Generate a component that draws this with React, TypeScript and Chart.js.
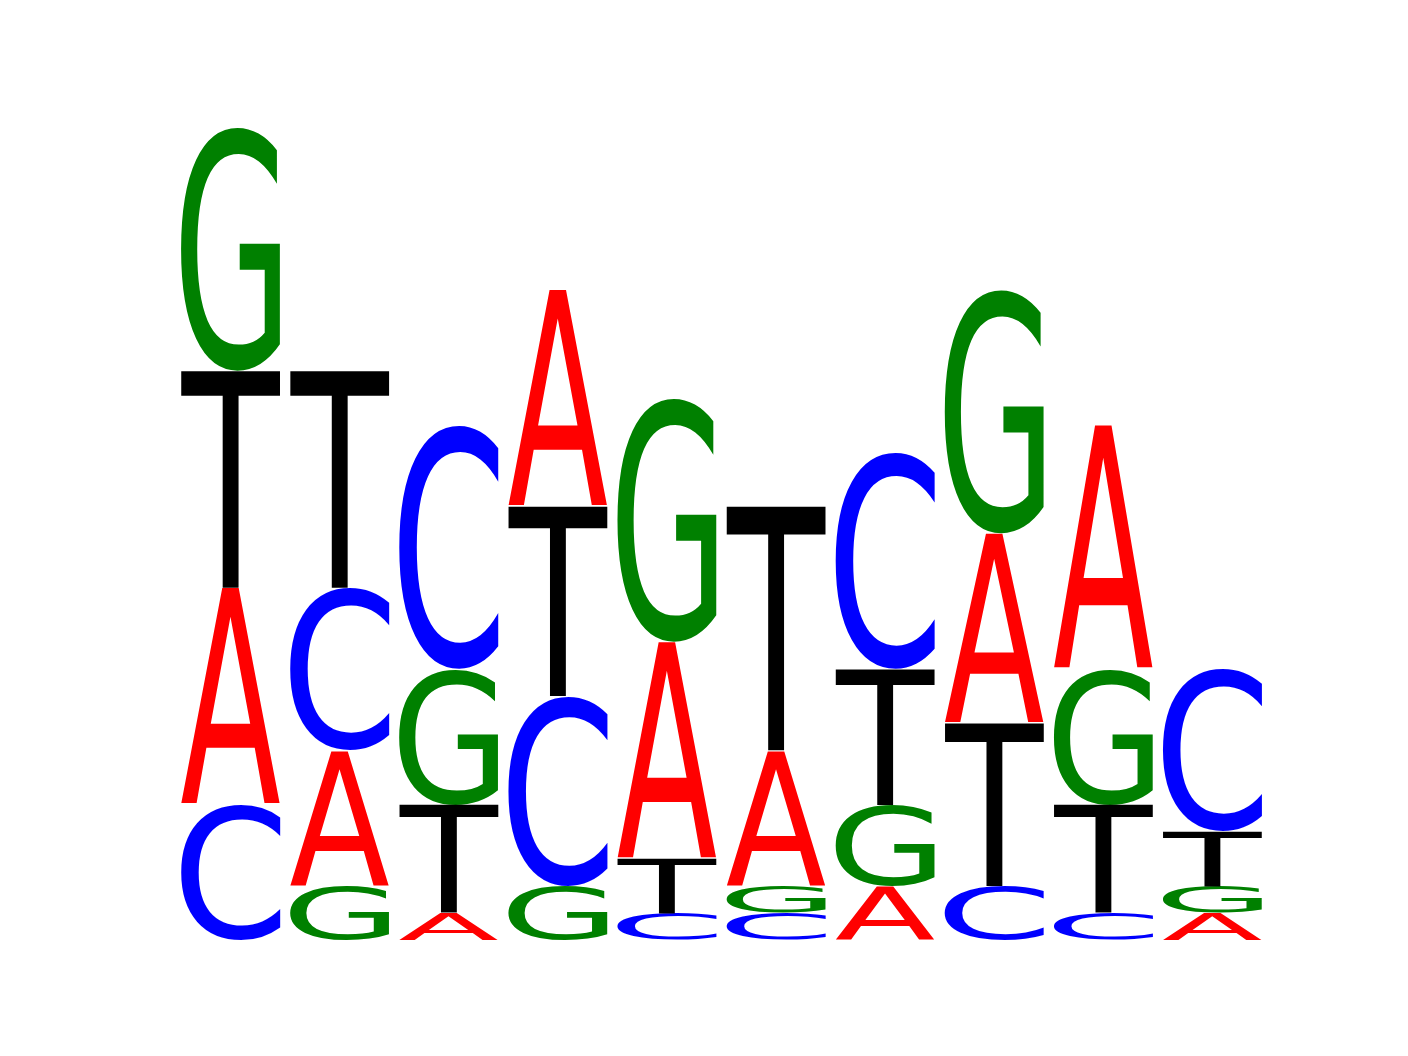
import { useEffect, useRef } from "react"
import { Chart, registerables } from "chart.js"

Chart.register(...registerables)

// counts per position (one letter unit = 1 count)
const positions = ["1", "2", "3", "4", "5", "6", "7", "8", "9", "10"]
const letters = ["A", "C", "G", "T"]
const countsA = [8, 5, 1, 8, 8, 5, 2, 7, 9, 1]
const countsC = [5, 6, 9, 7, 1, 1, 8, 2, 1, 6]
const countsG = [9, 2, 5, 2, 9, 1, 3, 9, 5, 1]
const countsT = [8, 8, 4, 7, 2, 9, 5, 6, 4, 2]

const letterColors: Record<string, string> = {
  A: "#ff0000",
  C: "#0000ff",
  G: "#008000",
  T: "#000000",
}

const countsByLetter: Record<string, number[]> = {
  A: countsA,
  C: countsC,
  G: countsG,
  T: countsT,
}

// stack letters smallest first, each as a floating bar [low, high]
function buildRanges() {
  const ranges: Record<string, [number, number][]> = { A: [], C: [], G: [], T: [] }
  positions.forEach((_, i) => {
    const order = letters
      .map((l) => ({ l, v: countsByLetter[l][i] }))
      .sort((a, b) => a.v - b.v)
    let acc = 0
    order.forEach(({ l, v }) => {
      ranges[l][i] = [acc, acc + v]
      acc += v
    })
  })
  return ranges
}

const glyphPlugin = {
  id: "glyphs",
  afterDatasetsDraw(chart: any) {
    const ctx: CanvasRenderingContext2D = chart.ctx
    const fontSize = 200
    ctx.save()
    ctx.font = `${fontSize}px "DejaVu Sans"`
    ctx.textAlign = "left"
    ctx.textBaseline = "alphabetic"
    chart.data.datasets.forEach((ds: any, di: number) => {
      const letter = ds.label as string
      const m = ctx.measureText(letter)
      const gl = m.actualBoundingBoxLeft
      const gw = m.actualBoundingBoxLeft + m.actualBoundingBoxRight
      const ga = m.actualBoundingBoxAscent
      const gh = m.actualBoundingBoxAscent + m.actualBoundingBoxDescent
      const meta = chart.getDatasetMeta(di)
      meta.data.forEach((bar: any) => {
        const { x, y, base, width } = bar.getProps(["x", "y", "base", "width"], true)
        const top = Math.min(y, base)
        const h = Math.abs(base - y)
        if (h <= 0) return
        ctx.save()
        ctx.translate(x - width / 2, top)
        ctx.scale(width / gw, h / gh)
        ctx.fillStyle = letterColors[letter]
        ctx.fillText(letter, gl, ga)
        ctx.restore()
      })
    })
    ctx.restore()
  },
}

function SequenceLogo() {
  const chartRef = useRef<HTMLCanvasElement>(null)
  const chartInstance = useRef<Chart | null>(null)

  useEffect(() => {
    if (!chartRef.current) return
    document.body.style.margin = "0"

    if (chartInstance.current) {
      chartInstance.current.destroy()
    }

    const ctx = chartRef.current.getContext("2d")
    if (!ctx) return

    const ranges = buildRanges()
    const totals = positions.map((_, i) => letters.reduce((s, l) => s + countsByLetter[l][i], 0))

    chartInstance.current = new Chart(ctx, {
      type: "bar",
      data: {
        labels: positions,
        datasets: letters.map((l) => ({
          label: l,
          data: ranges[l] as any,
          backgroundColor: "rgba(0,0,0,0)",
          borderWidth: 0,
          grouped: false,
          barPercentage: 0.91,
          categoryPercentage: 1,
        })),
      },
      options: {
        responsive: false,
        animation: false,
        layout: {
          padding: { left: 176, right: 141, top: 127, bottom: 116 },
        },
        scales: {
          x: { display: false },
          y: { display: false, min: 0, max: Math.max(...totals) },
        },
        plugins: {
          legend: { display: false },
          tooltip: { enabled: false },
        },
      },
      plugins: [glyphPlugin],
    })

    return () => {
      if (chartInstance.current) {
        chartInstance.current.destroy()
        chartInstance.current = null
      }
    }
  }, [])

  return (
    <div style={{ width: 1408, height: 1056, background: "#fff" }}>
      <canvas ref={chartRef} width={1408} height={1056} style={{ width: 1408, height: 1056 }} />
    </div>
  )
}

export default function App() {
  return <SequenceLogo />
}
